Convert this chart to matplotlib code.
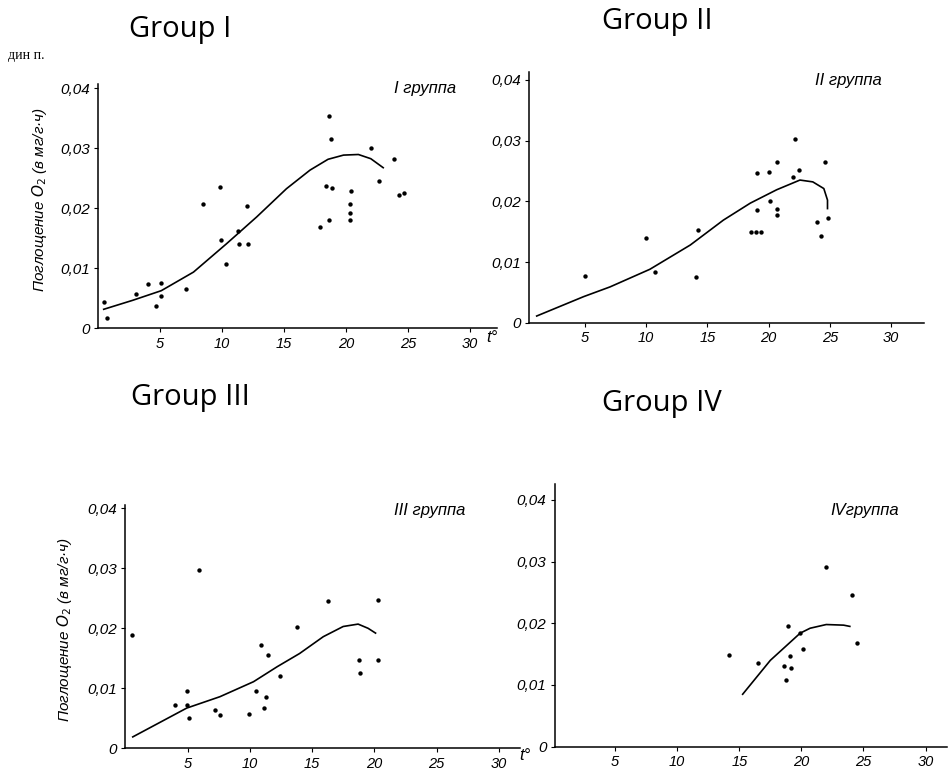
import matplotlib.pyplot as plt

W, H = 949, 777

# ---- data ----
# Group I
g1_t = [0.5, 0.7, 3.1, 4.0, 4.65, 5.1, 5.1, 7.1, 8.5, 9.8, 9.95, 10.35, 11.3, 11.4, 12.0, 12.1,
        17.9, 18.6, 18.4, 18.9, 18.6, 18.8, 20.4, 20.3, 20.3, 20.35, 22.0, 22.7, 23.9, 24.3, 24.7]
g1_o2 = [0.0044, 0.0018, 0.0057, 0.0074, 0.0038, 0.0075, 0.0054, 0.0065, 0.0207, 0.0236, 0.0147,
         0.0107, 0.0162, 0.0140, 0.0204, 0.0140, 0.0169, 0.0180, 0.0237, 0.0234, 0.0354, 0.0315,
         0.0229, 0.0207, 0.0193, 0.0180, 0.0301, 0.0246, 0.0283, 0.0222, 0.0225]
g1_curve_t = [0.46, 2.8, 5.1, 7.7, 10.35, 12.8, 15.2, 17.1, 18.55, 19.8, 21.0, 22.0, 23.0]
g1_curve_o2 = [0.0032, 0.0047, 0.0063, 0.0094, 0.0141, 0.0186, 0.0233, 0.0264, 0.0282, 0.0289,
               0.0290, 0.0283, 0.0268]

# Group II
g2_t = [5.0, 10.0, 10.7, 14.1, 14.26, 18.56, 18.97, 19.4, 19.07, 19.07, 20.0, 20.65, 20.1, 20.7,
        20.7, 22.15, 22.0, 22.5, 23.97, 24.3, 24.6, 24.8]
g2_o2 = [0.0077, 0.0139, 0.0084, 0.0076, 0.0153, 0.0150, 0.0150, 0.0150, 0.0186, 0.0247, 0.0249,
         0.0264, 0.0200, 0.0188, 0.0177, 0.0302, 0.0240, 0.0252, 0.0166, 0.0143, 0.0264, 0.0172]
g2_curve_t = [1.06, 4.9, 7.05, 10.3, 13.6, 16.3, 18.5, 20.65, 22.55, 23.6, 24.5, 24.8, 24.8]
g2_curve_o2 = [0.0011, 0.0043, 0.0059, 0.0088, 0.0128, 0.0169, 0.0197, 0.0219, 0.0235, 0.0232,
               0.0221, 0.0202, 0.0188]

# Group III
g3_t = [0.5, 4.95, 3.96, 4.98, 5.14, 5.9, 7.2, 7.6, 9.9, 10.47, 10.9, 11.27, 11.16, 11.43, 12.4,
        13.76, 16.25, 18.77, 18.82, 20.27, 20.3]
g3_o2 = [0.0189, 0.0096, 0.0073, 0.0073, 0.0050, 0.0297, 0.0064, 0.0056, 0.0057, 0.0096, 0.0173,
         0.0086, 0.0067, 0.0156, 0.0120, 0.0203, 0.0246, 0.0148, 0.0126, 0.0148, 0.0247]
g3_curve_t = [0.6, 4.93, 7.6, 10.3, 12.2, 14.0, 15.9, 17.5, 18.7, 19.5, 20.1]
g3_curve_o2 = [0.0019, 0.0067, 0.0086, 0.0111, 0.0136, 0.0158, 0.0186, 0.0203, 0.0207, 0.0200,
               0.0192]

# Group IV
g4_t = [14.2, 16.5, 18.95, 18.6, 18.8, 19.1, 19.2, 19.9, 20.1, 21.96, 24.05, 24.45]
g4_o2 = [0.0149, 0.0136, 0.0195, 0.0130, 0.0108, 0.0147, 0.0127, 0.0184, 0.0159, 0.0292, 0.0246,
         0.0168]
g4_curve_t = [15.27, 17.5, 19.9, 20.7, 22.0, 23.4, 23.9]
g4_curve_o2 = [0.0085, 0.0140, 0.0184, 0.0192, 0.0198, 0.0197, 0.0195]

x_ticks = [5, 10, 15, 20, 25, 30]
y_ticks = [0, 0.01, 0.02, 0.03, 0.04]
y_tick_labels = ['0', '0,01', '0,02', '0,03', '0,04']

titles = ['Group I', 'Group II', 'Group III', 'Group IV']
group_labels = ['I группа', 'II группа', 'III группа', 'IVгруппа']
ylabel = 'Поглощение $O_2$ (в мг/г·ч)'

fig = plt.figure(figsize=(W / 100, H / 100), dpi=100)


def fx(px):
    return px / W


def fy(py):
    return 1 - py / H


def make_axes(x0, y0, px_per_t, px_per_001, xlim, ylim):
    # x0,y0: pixel position of data origin; build axes in figure fractions
    left = x0 + xlim[0] * px_per_t
    right = x0 + xlim[1] * px_per_t
    bottom = y0 - ylim[0] / 0.01 * px_per_001
    top = y0 - ylim[1] / 0.01 * px_per_001
    ax = fig.add_axes([fx(left), fy(bottom), (right - left) / W, (bottom - top) / H])
    ax.set_xlim(*xlim)
    ax.set_ylim(*ylim)
    for s in ['top', 'right']:
        ax.spines[s].set_visible(False)
    for s in ['left', 'bottom']:
        ax.spines[s].set_linewidth(1.1)
    ax.set_xticks(x_ticks)
    ax.set_xticklabels([str(v) for v in x_ticks], fontstyle='italic', fontsize=10.5,
                       family='Liberation Sans')
    ax.set_yticks(y_ticks)
    ax.set_yticklabels(y_tick_labels, fontstyle='italic', fontsize=11, family='Liberation Sans')
    ax.tick_params(axis='both', length=3, width=0.8, pad=3)
    ax.patch.set_alpha(0)
    return ax


panels = [
    (98, 328.5, 12.4, 60.0, (0, 32.2), (0, 0.0408), g1_t, g1_o2, g1_curve_t, g1_curve_o2),
    (523.7, 322.7, 12.25, 60.7, (0.43, 32.7), (0, 0.0413), g2_t, g2_o2, g2_curve_t, g2_curve_o2),
    (125.3, 748.3, 12.45, 60.0, (0, 31.7), (0, 0.0405), g3_t, g3_o2, g3_curve_t, g3_curve_o2),
    (553, 746.7, 12.42, 61.7, (0.15, 31.7), (0, 0.0425), g4_t, g4_o2, g4_curve_t, g4_curve_o2),
]

for i, (x0, y0, pt, p01, xl, yl, t, o2, ct, co2) in enumerate(panels):
    ax = make_axes(x0, y0, pt, p01, xl, yl)
    ax.scatter(t, o2, s=10, color='black', zorder=3, linewidths=0)
    ax.plot(ct, co2, color='black', linewidth=1.2)

# group titles
title_pos = [(180, 30), (657, 22), (190, 397), (662, 403)]
for txt, (x, y) in zip(titles, title_pos):
    fig.text(fx(x), fy(y), txt, fontsize=21, family='Open Sans', ha='center', va='center')

# labels inside the panels
lab_pos = [(425, 88), (848, 80), (430, 510), (865, 510)]
for txt, (x, y) in zip(group_labels, lab_pos):
    fig.text(fx(x), fy(y), txt, fontsize=12, fontstyle='italic', family='Liberation Sans',
             ha='center', va='center')

# y-axis labels (left panels only)
fig.text(fx(40), fy(200), ylabel, rotation=90, fontsize=11, fontstyle='italic',
         family='Liberation Sans', ha='center', va='center')
fig.text(fx(65), fy(630), ylabel, rotation=90, fontsize=11, fontstyle='italic',
         family='Liberation Sans', ha='center', va='center')

# t° at the end of the x axes
fig.text(fx(492), fy(338), 't°', fontsize=12, fontstyle='italic', family='Liberation Sans',
         ha='center', va='center')
fig.text(fx(525), fy(755), 't°', fontsize=12, fontstyle='italic', family='Liberation Sans',
         ha='center', va='center')

# fragment of scanned text in the corner
fig.text(fx(8), fy(55), 'дин п.', fontsize=10, family='Liberation Serif', ha='left', va='center')

fig.savefig('out.png', dpi=100)
